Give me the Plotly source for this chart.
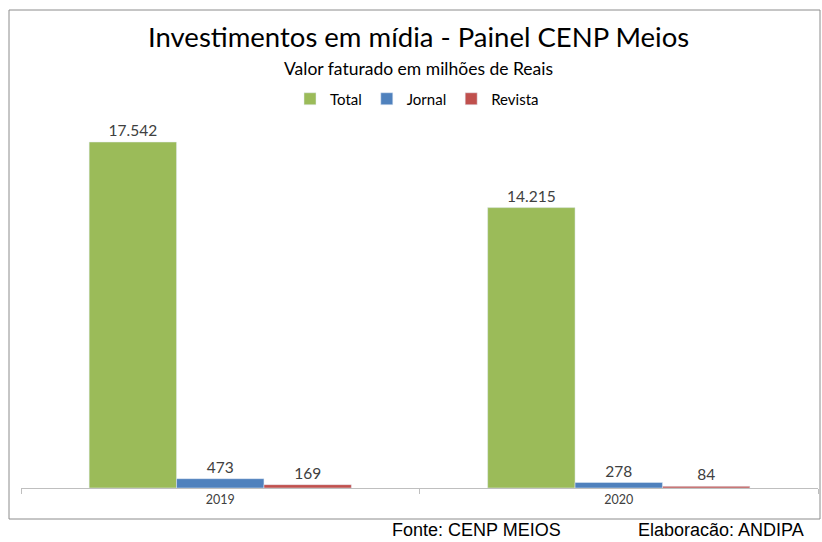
import plotly.graph_objects as go

anos = ["2019", "2020"]
total = [17542, 14215]
jornal = [473, 278]
revista = [169, 84]

series = [("Total", total, "#9BBB59"), ("Jornal", jornal, "#4F81BD"), ("Revista", revista, "#C0504D")]

W, H = 822, 542
L, R, T, B = 21, 4, 120, 54
ph = H - T - B

def py(p):
    return (H - B - p) / ph

def px(p):
    return (p - L) / (W - L - R)

fig = go.Figure()
for name, vals, col in series:
    fig.add_trace(go.Bar(
        x=anos, y=vals, name=name, marker_color=col,
        texttemplate="%{y:,}", textposition="outside",
        textfont=dict(family="Lato", size=15.5, color="#404040"),
        cliponaxis=False,
    ))

fig.update_layout(
    width=W, height=H,
    margin=dict(l=L, r=R, t=T, b=B),
    paper_bgcolor="white", plot_bgcolor="white",
    separators=",.",
    barmode="group", bargap=0.342, bargroupgap=0,
    font=dict(family="Lato", color="#404040"),
    showlegend=True,
    legend=dict(orientation="h", x=px(417), xanchor="center", y=py(99), yanchor="middle",
                font=dict(family="Lato", size=15, color="#000000"),
                itemwidth=30, tracegroupgap=0),
    xaxis=dict(type="category", showline=True, linecolor="#BFBFBF", linewidth=1,
               ticks="outside", tickson="boundaries", ticklen=5, tickcolor="#BFBFBF",
               tickfont=dict(family="Lato", size=12.5, color="#404040"),
               showgrid=False, fixedrange=True),
    yaxis=dict(range=[0, 17542 * ph / 346], visible=False, showgrid=False),
    annotations=[
        dict(text="Investimentos em mídia - Painel CENP Meios", x=px(418), y=py(36),
             xref="paper", yref="paper", showarrow=False, xanchor="center", yanchor="middle",
             font=dict(family="Lato", size=27.5, color="#000000")),
        dict(text="Valor faturado em milhões de Reais", x=px(418), y=py(68),
             xref="paper", yref="paper", showarrow=False, xanchor="center", yanchor="middle",
             font=dict(family="Lato", size=17.5, color="#000000")),
        dict(text="Fonte: CENP MEIOS", x=px(390), y=py(530),
             xref="paper", yref="paper", showarrow=False, xanchor="left", yanchor="middle",
             font=dict(family="Liberation Sans", size=18, color="#000000")),
        dict(text="Elaboracão: ANDIPA", x=px(636), y=py(530),
             xref="paper", yref="paper", showarrow=False, xanchor="left", yanchor="middle",
             font=dict(family="Liberation Sans", size=18, color="#000000")),
    ],
    shapes=[
        dict(type="rect", xref="paper", yref="paper", x0=px(9), x1=px(820), y0=py(519), y1=py(10),
             line=dict(color="#8C8C8C", width=1), fillcolor="rgba(0,0,0,0)"),
    ],
)

fig.write_html("out.html", config={"displayModeBar": False},
               post_script="document.body.style.margin='0';document.body.style.overflow='hidden';")
